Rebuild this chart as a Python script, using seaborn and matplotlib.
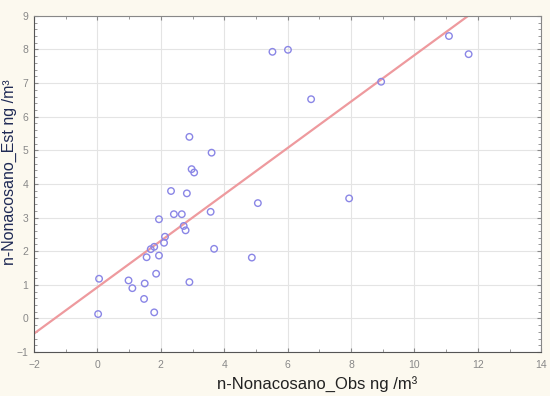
import seaborn as sns
import matplotlib.pyplot as plt
from matplotlib.ticker import MultipleLocator
import numpy as np
import pandas as pd

obs = [3.60, 2.97, 3.05, 2.32, 2.82, 3.57, 1.94, 2.41, 2.66, 2.72, 2.78, 2.13, 2.10,
       1.79, 1.68, 1.55, 1.94, 3.68, 0.05, 0.98, 1.10, 1.49, 1.85, 2.90, 1.47, 0.02,
       1.79, 5.52, 6.01, 6.74, 2.90, 11.09, 11.71, 8.95, 7.94, 5.06, 4.87]
est = [4.93, 4.44, 4.34, 3.79, 3.72, 3.17, 2.95, 3.10, 3.10, 2.75, 2.62, 2.43, 2.25,
       2.13, 2.06, 1.82, 1.87, 2.07, 1.18, 1.13, 0.90, 1.04, 1.33, 1.08, 0.58, 0.13,
       0.18, 7.93, 7.99, 6.52, 5.40, 8.40, 7.86, 7.04, 3.57, 3.43, 1.81]

# fitted line
fit_intercept = 0.93
fit_slope = 0.69
line_x = [-2, 14]

df = pd.DataFrame({'obs': obs, 'est': est})

sns.set_style('white')
plt.rcParams['font.family'] = ['Liberation Sans', 'DejaVu Sans']
fig = plt.figure(figsize=(5.5, 3.96), dpi=100, facecolor='#fcf9ef')
ax = fig.add_axes([0.062, 0.111, 0.922, 0.849])
ax.set_facecolor('white')

fit_df = pd.DataFrame({'x': line_x, 'y': [fit_intercept + fit_slope * v for v in line_x]})
sns.lineplot(data=fit_df, x='x', y='y', color='#ee9a9e', linewidth=1.6, ax=ax, zorder=2)
sns.scatterplot(data=df, x='obs', y='est', marker='o', s=22, facecolors='none',
                edgecolor='#8a86e6', linewidth=1.0, ax=ax, zorder=3)

ax.set_xlim(-2, 14)
ax.set_ylim(-1, 9)
ax.xaxis.set_major_locator(MultipleLocator(2))
ax.yaxis.set_major_locator(MultipleLocator(1))
ax.xaxis.set_minor_locator(MultipleLocator(1))
ax.yaxis.set_minor_locator(MultipleLocator(0.2))
ax.grid(True, which='major', color='#e4e4e4', linewidth=0.8)
ax.tick_params(which='both', direction='in', colors='#888888', labelsize=7.5,
               bottom=True, left=True, top=True, right=True)
ax.tick_params(which='major', length=3)
ax.tick_params(which='minor', length=2)
ax.tick_params(axis='x', pad=6)
ax.tick_params(axis='y', pad=4)
for side in ['left', 'bottom']:
    ax.spines[side].set_color('#555555')
for side in ['top', 'right']:
    ax.spines[side].set_color('#888888')

ax.set_xlabel('n-Nonacosano_Obs ng /m³', fontsize=12, color='#222222')
ax.set_ylabel('n-Nonacosano_Est ng /m³', fontsize=11.5, color='#1f2a55')
ax.xaxis.set_label_coords(0.558, -0.075)
ax.yaxis.set_label_coords(-0.034, 0.536)

plt.savefig('out.png', dpi=100, facecolor=fig.get_facecolor())
